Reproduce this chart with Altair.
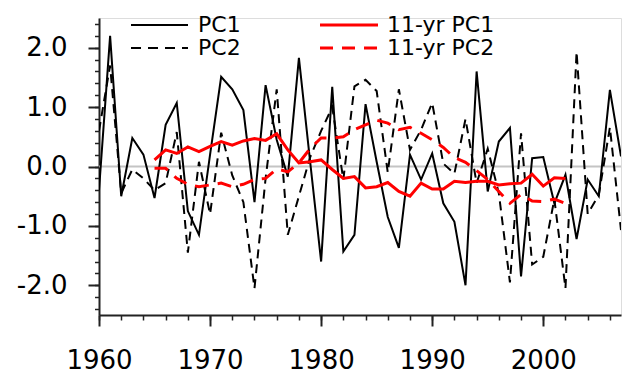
import altair as alt
import pandas as pd

# ---- data ----
years = list(range(1960, 2008))
pc1 = [-0.40, 2.20, -0.50, 0.48, 0.20, -0.53, 0.70, 1.07, -0.75, -1.15,
       0.20, 1.51, 1.30, 0.95, -0.60, 1.37, 0.45, -0.17, 1.83, 0.10,
       -1.60, 1.34, -1.43, -1.15, 1.05, 0.08, -0.85, -1.37, 0.20, -0.22,
       0.22, -0.62, -0.93, -2.00, 1.60, -0.42, 0.42, 0.65, -1.85, 0.14,
       0.16, -0.62, -0.14, -1.22, -0.22, -0.50, 1.29, 0.17]
pc2 = [0.60, 1.70, -0.45, -0.05, -0.20, -0.40, -0.28, 0.58, -1.45, 0.08,
       -0.80, 0.57, -0.15, -0.60, -2.05, -0.20, 1.30, -1.15, -0.50, 0.15,
       0.60, 1.00, -0.22, 1.35, 1.46, 1.27, -0.10, 1.30, 0.28, 0.62,
       1.07, 0.05, -0.12, 0.80, -0.28, 0.30, -0.45, -1.95, 0.56, -1.65,
       -1.52, -0.55, -2.05, 1.93, -0.80, -0.48, 0.66, -1.07]

rm_years = list(range(1965, 2003))
rm_pc1 = [0.11, 0.28, 0.22, 0.33, 0.25, 0.34, 0.42, 0.36, 0.43, 0.47,
          0.44, 0.55, 0.28, 0.06, 0.08, 0.11, -0.05, -0.20, -0.17, -0.36,
          -0.34, -0.27, -0.42, -0.50, -0.28, -0.38, -0.38, -0.25, -0.27, -0.25,
          -0.25, -0.31, -0.29, -0.28, -0.13, -0.33, -0.19, -0.20]
rm_pc2 = [-0.03, -0.03, -0.20, -0.30, -0.34, -0.31, -0.28, -0.34, -0.30, -0.22,
          -0.20, -0.04, -0.09, 0.06, 0.30, 0.48, 0.48, 0.50, 0.62, 0.70,
          0.78, 0.73, 0.62, 0.66, 0.56, 0.45, 0.32, 0.15, 0.07, -0.07,
          -0.22, -0.42, -0.62, -0.47, -0.58, -0.59, -0.55, -0.62]

x_major = [1960, 1970, 1980, 1990, 2000]
x_minor = list(range(1960, 2008, 2))
y_major = [-2, -1, 0, 1, 2]
y_minor = [round(-2.4 + 0.2 * i, 1) for i in range(25)]
zero_line = [0]

legend_labels = ["PC1", "PC2", "11-yr PC1", "11-yr PC2"]

# ---- tables ----
df_raw = pd.DataFrame({"year": years, "pc1": pc1, "pc2": pc2})
df_rm = pd.DataFrame({"year": rm_years, "rm1": rm_pc1, "rm2": rm_pc2})
df_zero = pd.DataFrame({"v": zero_line})

FONT = "DejaVu Sans"
AX = "#222222"

xscale = alt.Scale(domain=[1960, 2007], nice=False, zero=False)
yscale = alt.Scale(domain=[-2.5, 2.5], nice=False, zero=False)

ylabel_expr = "datum.value < 0 ? '-' + format(-datum.value, '.1f') : format(datum.value, '.1f')"

x_major_axis = alt.Axis(values=x_major, format="d", orient="bottom", title=None, grid=False,
                        labelFont=FONT, labelFontSize=26, labelColor="black", labelPadding=21,
                        tickSize=11, tickWidth=2, tickColor=AX,
                        domainWidth=2, domainColor=AX, labelFlush=False, labelOverlap=False)
y_major_axis = alt.Axis(values=y_major, orient="left", title=None, grid=False, labelExpr=ylabel_expr,
                        labelFont=FONT, labelFontSize=26, labelColor="black", labelPadding=21,
                        tickSize=11, tickWidth=2, tickColor=AX,
                        domainWidth=2, domainColor=AX, labelFlush=False, labelOverlap=False)
x_minor_axis = alt.Axis(values=x_minor, orient="bottom", title=None, grid=False, labels=False,
                        tickSize=5, tickWidth=1.5, tickColor=AX, domain=False)
y_minor_axis = alt.Axis(values=y_minor, orient="left", title=None, grid=False, labels=False,
                        tickSize=4.5, tickWidth=1.5, tickColor=AX, domain=False)

# layer carrying the minor-tick axes (invisible marks)
minor = alt.Chart(df_raw).mark_point(opacity=0).encode(
    x=alt.X("year:Q", scale=xscale, axis=x_minor_axis),
    y=alt.Y("pc1:Q", scale=yscale, axis=y_minor_axis),
)
zero = alt.Chart(df_zero).mark_rule(color="#c4c4c4", strokeWidth=2).encode(
    y=alt.Y("v:Q", scale=yscale, axis=None),
    x=alt.value(0), x2=alt.value(522),
)
line1 = alt.Chart(df_raw).mark_line(color="black", strokeWidth=2, clip=True).encode(
    x=alt.X("year:Q", scale=xscale, axis=x_major_axis),
    y=alt.Y("pc1:Q", scale=yscale, axis=y_major_axis),
)
line2 = alt.Chart(df_raw).mark_line(color="black", strokeWidth=2, strokeDash=[9, 6], clip=True).encode(
    x=alt.X("year:Q", scale=xscale, axis=None),
    y=alt.Y("pc2:Q", scale=yscale, axis=None),
)
red1 = alt.Chart(df_rm).mark_line(color="#ff0000", strokeWidth=3).encode(
    x=alt.X("year:Q", scale=xscale, axis=None),
    y=alt.Y("rm1:Q", scale=yscale, axis=None),
)
red2 = alt.Chart(df_rm).mark_line(color="#ff0000", strokeWidth=3, strokeDash=[14, 9]).encode(
    x=alt.X("year:Q", scale=xscale, axis=None),
    y=alt.Y("rm2:Q", scale=yscale, axis=None),
)

# ---- manual legend (pixel layout) ----
def leg_line(x0, x1, y, color, width, dash=None):
    kw = dict(color=color, strokeWidth=width)
    if dash:
        kw["strokeDash"] = dash
    return alt.Chart().mark_rule(**kw).encode(x=alt.value(x0), x2=alt.value(x1), y=alt.value(y))

def leg_text(x, y, label):
    return alt.Chart().mark_text(align="left", baseline="middle", font=FONT, fontSize=22,
                                 color="black").encode(x=alt.value(x), y=alt.value(y), text=alt.value(label))

legend = [
    leg_line(32, 89, 7, "black", 2), leg_text(99, 7, legend_labels[0]),
    leg_line(32, 89, 30, "black", 2, [10, 7]), leg_text(99, 30, legend_labels[1]),
    leg_line(221, 279, 7, "#ff0000", 3), leg_text(288, 7, legend_labels[2]),
    leg_line(221, 279, 30, "#ff0000", 3, [13, 9]), leg_text(288, 30, legend_labels[3]),
]

chart = alt.layer(minor, zero, line1, line2, red1, red2, *legend).resolve_axis(
    x="independent", y="independent"
).properties(
    width=522, height=297,
    autosize=alt.AutoSizeParams(type="none"),
    padding={"left": 99, "top": 18, "right": 4, "bottom": 57},
).configure_view(stroke=None).configure(background="white")

chart.save("out.html", embed_options={"renderer": "svg", "actions": False})
